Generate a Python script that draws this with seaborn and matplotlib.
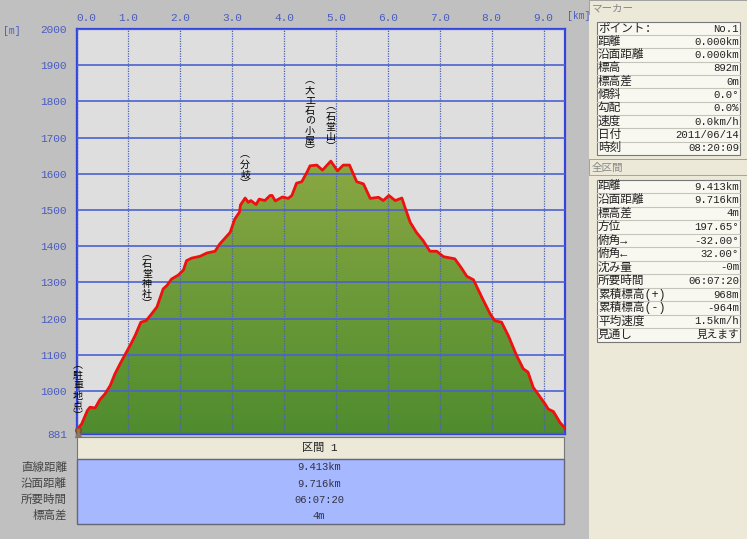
import matplotlib
matplotlib.use('Agg')
import numpy as np
import pandas as pd
import seaborn as sns
import matplotlib.pyplot as plt
from matplotlib.patches import Rectangle
from matplotlib.transforms import ScaledTranslation

# distance [km] / elevation [m]
distancia = [0.00, 0.10, 0.21, 0.26, 0.36, 0.45, 0.55, 0.65, 0.74, 0.84, 0.93, 1.03, 1.13, 1.24, 1.34,
             1.42, 1.55, 1.67, 1.74, 1.83, 1.96, 2.06, 2.12, 2.22, 2.38, 2.51, 2.67, 2.76, 2.96, 3.05,
             3.14, 3.16, 3.25, 3.31, 3.36, 3.46, 3.52, 3.63, 3.73, 3.77, 3.83, 3.97, 4.08, 4.15, 4.24,
             4.34, 4.44, 4.50, 4.63, 4.74, 4.90, 5.03, 5.14, 5.26, 5.40, 5.53, 5.66, 5.82, 5.91, 6.02,
             6.14, 6.27, 6.33, 6.43, 6.55, 6.68, 6.81, 6.94, 7.07, 7.29, 7.42, 7.52, 7.65, 7.81, 7.97,
             8.06, 8.19, 8.32, 8.48, 8.61, 8.70, 8.80, 9.03, 9.09, 9.19, 9.32, 9.39, 9.413]
altitude = [892, 909, 946, 955, 953, 976, 992, 1015, 1047, 1075, 1099, 1125, 1153, 1190, 1194,
            1208, 1232, 1282, 1291, 1309, 1320, 1334, 1360, 1367, 1372, 1381, 1386, 1406, 1438, 1475,
            1494, 1514, 1533, 1521, 1526, 1515, 1530, 1526, 1540, 1540, 1525, 1536, 1532, 1540, 1574,
            1578, 1604, 1622, 1624, 1610, 1635, 1608, 1624, 1624, 1578, 1572, 1532, 1535, 1526, 1540,
            1526, 1533, 1507, 1466, 1438, 1415, 1386, 1386, 1371, 1365, 1339, 1317, 1307, 1259, 1213,
            1194, 1190, 1153, 1098, 1061, 1052, 1010, 964, 950, 943, 912, 901, 896]

xticks = [0, 1, 2, 3, 4, 5, 6, 7, 8, 9]
yticks = [881, 1000, 1100, 1200, 1300, 1400, 1500, 1600, 1700, 1800, 1900, 2000]

pontos_x = [0.03, 1.36, 3.25, 4.50, 4.90]
pontos_y = [1001, 1309, 1612, 1761, 1730]
pontos_nome = ['駐車地点', '石堂神社', '分岐', '大工石の小屋', '石堂山']

marcador_nomes = ['ポイント:', '距離', '沿面距離', '標高', '標高差', '傾斜', '勾配', '速度', '日付', '時刻']
marcador_vals = ['No.1', '0.000km', '0.000km', '892m', '0m', '0.0°', '0.0%', '0.0km/h', '2011/06/14', '08:20:09']
total_nomes = ['距離', '沿面距離', '標高差', '方位', '俯角→', '俯角←', '沈み量', '所要時間',
               '累積標高(+)', '累積標高(-)', '平均速度', '見通し']
total_vals = ['9.413km', '9.716km', '4m', '197.65°', '-32.00°', '32.00°', '-0m', '06:07:20',
              '968m', '-964m', '1.5km/h', '見えます']
baixo_nomes = ['直線距離', '沿面距離', '所要時間', '標高差']
baixo_vals = ['9.413km', '9.716km', '06:07:20', '4m']

W, H = 747, 539
plt.rcParams['font.family'] = ['Liberation Mono', 'Noto Sans CJK JP', 'DejaVu Sans']
azul_txt = '#4a5cc0'
cinza_txt = '#444444'

fig = plt.figure(figsize=(W / 100, H / 100), dpi=100, facecolor='#c0c0c0')


def caixa(x0, y0, x1, y1):
    # axes from pixel box, y going down like in the screenshot
    return fig.add_axes([x0 / W, 1 - y1 / H, (x1 - x0) / W, (y1 - y0) / H])


ax = caixa(76.5, 29, 565, 434)
ax.set_facecolor('#dedede')
dados = pd.DataFrame({'km': distancia, 'm': altitude})

# fill with vertical gradient, clipped to the profile
area = ax.fill_between(distancia, altitude, 881, color='none', zorder=1)
grad = np.linspace(0, 1, 256).reshape(-1, 1)
cmap = matplotlib.colors.LinearSegmentedColormap.from_list('verde', ['#4f8c2e', '#8aa843'])
img = ax.imshow(grad, origin='lower', cmap=cmap, aspect='auto', extent=[0, 9.413, 881, 1640], zorder=1)
img.set_clip_path(area.get_paths()[0], transform=ax.transData)

sns.lineplot(data=dados, x='km', y='m', color='#f01010', linewidth=2.0, ax=ax, zorder=4,
             solid_joinstyle='round')

ax.set_xlim(0, 9.413)
ax.set_ylim(881, 2000)
ax.set_xticks(xticks)
ax.set_xticklabels([f'{v:.1f}' for v in xticks])
ax.set_yticks(yticks)
ax.xaxis.tick_top()
ax.tick_params(length=0, labelsize=8, labelcolor=azul_txt)
ax.tick_params(axis='x', pad=4)
ax.tick_params(axis='y', pad=7)
ax.set_xlabel('')
ax.set_ylabel('')
ax.grid(axis='y', color='#4a62d0', linewidth=1.2, zorder=2)
ax.grid(axis='x', color='#4e62b0', linewidth=0.9, linestyle=(0, (1, 1)), zorder=2)
ax.set_axisbelow(False)
for lado in ax.spines.values():
    lado.set_color('#3344dd')
    lado.set_linewidth(1.6)
ax.spines['left'].set_linestyle((0, (1, 0.5)))

# the 0.0 label sits to the right of its gridline in the original
rotulo0 = ax.get_xticklabels()[0]
rotulo0.set_transform(rotulo0.get_transform() + ScaledTranslation(10 / 100, 0, fig.dpi_scale_trans))

fig.text(3 / W, 1 - 31 / H, '[m]', color=azul_txt, fontsize=7, va='center')
fig.text(567 / W, 1 - 16 / H, '[km]', color=azul_txt, fontsize=7, va='center')

# vertical place names
for x, y, nome in zip(pontos_x, pontos_y, pontos_nome):
    txt = '\n'.join('︵' + nome + '︶')
    ax.text(x, y, txt, fontsize=7.2, color='black', ha='center', va='center', linespacing=1.0, zorder=6,
            family='Noto Sans CJK JP')

# small hiker mark at the start
ax.plot([0.02], [892], marker='o', ms=4, color='#b5653a', mec='#7a4a30', clip_on=False, zorder=7)
ax.plot([0.02], [881], marker='^', ms=4, color='#8a7a60', clip_on=False, zorder=7)

# overlay in pixel coordinates for the tables
ov = fig.add_axes([0, 0, 1, 1], facecolor='none')
ov.set_xlim(0, W)
ov.set_ylim(H, 0)
ov.axis('off')

creme = '#ece9d8'


def retangulo(x0, y0, x1, y1, cor, borda='none', lw=0):
    ov.add_patch(Rectangle((x0, y0), x1 - x0, y1 - y0, facecolor=cor, edgecolor=borda, linewidth=lw))


def tabela(nomes, vals, y_ini, passo):
    topo = y_ini - passo / 2
    retangulo(596.5, topo, 740, topo + passo * len(nomes), '#f8f7f0', '#777777', 0.8)
    for i, (n, v) in enumerate(zip(nomes, vals)):
        y = y_ini + i * passo
        ov.text(598, y, n, fontsize=8.4, color='#222222', va='center', ha='left')
        ov.text(739, y, v, fontsize=7.7, color='#222222', va='center', ha='right')
        if i:
            ov.plot([597, 740], [y - passo / 2] * 2, color='#c4c4ba', lw=0.8)


# right side panels
retangulo(589, 0, 747, 15, creme, '#999999', 0.6)
ov.text(592, 8.5, 'マーカー', fontsize=7.6, color='#888888', va='center')
retangulo(589, 15, 747, 159, creme)
retangulo(589, 175, 747, 539, creme)
retangulo(589, 159, 747, 175, creme, '#999999', 0.6)
ov.text(592, 168, '全区間', fontsize=7.6, color='#888888', va='center')
tabela(marcador_nomes, marcador_vals, 28.5, 13.3)
tabela(total_nomes, total_vals, 186.5, 13.5)

# section table below the plot
retangulo(76.5, 437, 563.5, 458.5, creme, '#777777', 0.8)
ov.text(320, 447.5, '区間 1', fontsize=8, color='#222222', ha='center', va='center')
retangulo(76.5, 458.5, 563.5, 524, '#a6b8ff', '#666677', 1.0)
for i, (n, v) in enumerate(zip(baixo_nomes, baixo_vals)):
    y = 467.5 + i * 16.2
    ov.text(67, y, n, fontsize=8.3, color=cinza_txt, ha='right', va='center')
    ov.text(319, y, v, fontsize=7.6, color='#333344', ha='center', va='center')

fig.savefig('out.png', dpi=100, facecolor=fig.get_facecolor())
